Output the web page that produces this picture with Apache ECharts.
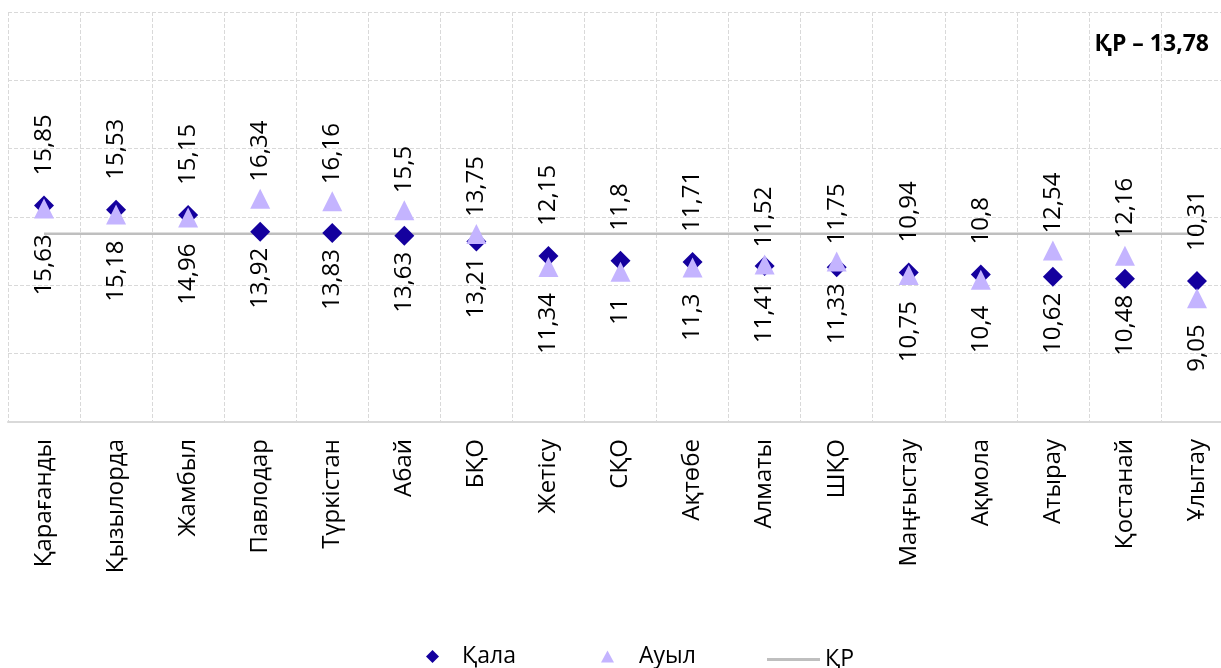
<!DOCTYPE html>
<html>
<head>
<meta charset="utf-8">
<script src="https://cdn.jsdelivr.net/npm/echarts@6/dist/echarts.min.js"></script>
<style>
html,body{margin:0;padding:0;background:#fff;}
#chart{width:1221px;height:668px;}
</style>
</head>
<body>
<div id="chart"></div>
<script>
const categories = ['Қарағанды','Қызылорда','Жамбыл','Павлодар','Түркістан','Абай','БҚО','Жетісу','СҚО','Ақтөбе','Алматы','ШҚО','Маңғыстау','Ақмола','Атырау','Қостанай','Ұлытау'];
const kala = [15.85,15.53,15.15,13.92,13.83,13.63,13.21,12.15,11.8,11.71,11.41,11.33,10.94,10.8,10.62,10.48,10.31];
const auyl = [15.63,15.18,14.96,16.34,16.16,15.5,13.75,11.34,11,11.3,11.52,11.75,10.75,10.4,12.54,12.16,9.05];
const krValue = 13.78;
const titleText = 'ҚР – 13,78';

const FONT = 'Open Sans';
const fmt = v => String(v).replace('.', ',');

function lbl(pos, dist) {
  return {show:true, position:pos, rotate:90, align: pos === 'top' ? 'left' : 'right', verticalAlign:'middle',
    distance:dist, fontFamily:FONT, fontSize:24, color:'#000', formatter: p => fmt(p.value)};
}

const kalaData = kala.map((v,i) => ({value:v, label: v >= auyl[i] ? lbl('top', 20) : lbl('bottom', 6)}));
const auylData = auyl.map((v,i) => ({value:v, label: v > kala[i] ? lbl('top', 7) : lbl('bottom', 16)}));
const krData = categories.map(() => krValue);

const chart = echarts.init(document.getElementById('chart'), null, {renderer:'canvas'});
const gridColor = '#d9d9d9';
chart.setOption({
  animation:false,
  textStyle:{fontFamily:FONT},
  title:{text:titleText, right:12, top:33, padding:0,
    textStyle:{fontFamily:FONT, fontSize:23, fontWeight:'bold', color:'#000'}},
  grid:{left:8, top:12, width:1225, bottom:246, outerBoundsMode:'none', containLabel:false},
  xAxis:{type:'category', data:categories, boundaryGap:true,
    axisLine:{show:true, lineStyle:{color:gridColor, width:2}},
    axisTick:{show:false},
    axisLabel:{rotate:90, interval:0, margin:17, fontFamily:FONT, fontSize:24, color:'#000'},
    splitLine:{show:true, interval:0, lineStyle:{color:gridColor, type:[4,2], width:1}}},
  yAxis:{type:'value', min:0, max:30, interval:5,
    axisLine:{show:false}, axisTick:{show:false}, axisLabel:{show:false},
    splitLine:{show:true, lineStyle:{color:gridColor, type:[4,2], width:1}}},
  legend:[
    {data:[{name:'Қала', icon:'diamond'}], left:421, top:640, itemWidth:13, itemHeight:13,
      textStyle:{fontFamily:FONT, fontSize:23, color:'#000', padding:[0,0,0,18]}},
    {data:[{name:'Ауыл', icon:'triangle'}], left:596, top:640, itemWidth:13, itemHeight:12,
      textStyle:{fontFamily:FONT, fontSize:23, color:'#000', padding:[0,0,0,20]}},
    {data:[{name:'ҚР', icon:'rect'}], left:762, top:643, itemWidth:53, itemHeight:3,
      textStyle:{fontFamily:FONT, fontSize:23, color:'#000'}}
  ],
  series:[
    {name:'ҚР', type:'line', data:krData, symbol:'none', z:1,
      itemStyle:{color:'#bfbfbf'}, lineStyle:{color:'#bfbfbf', width:2.5}},
    {name:'Қала', type:'scatter', data:kalaData, symbol:'diamond', symbolSize:20, z:2,
      itemStyle:{color:'#14009E', opacity:1}},
    {name:'Ауыл', type:'scatter', data:auylData, symbol:'triangle', symbolSize:20, z:3,
      itemStyle:{color:'#C4B4FF', opacity:1}}
  ]
});
</script>
</body>
</html>
